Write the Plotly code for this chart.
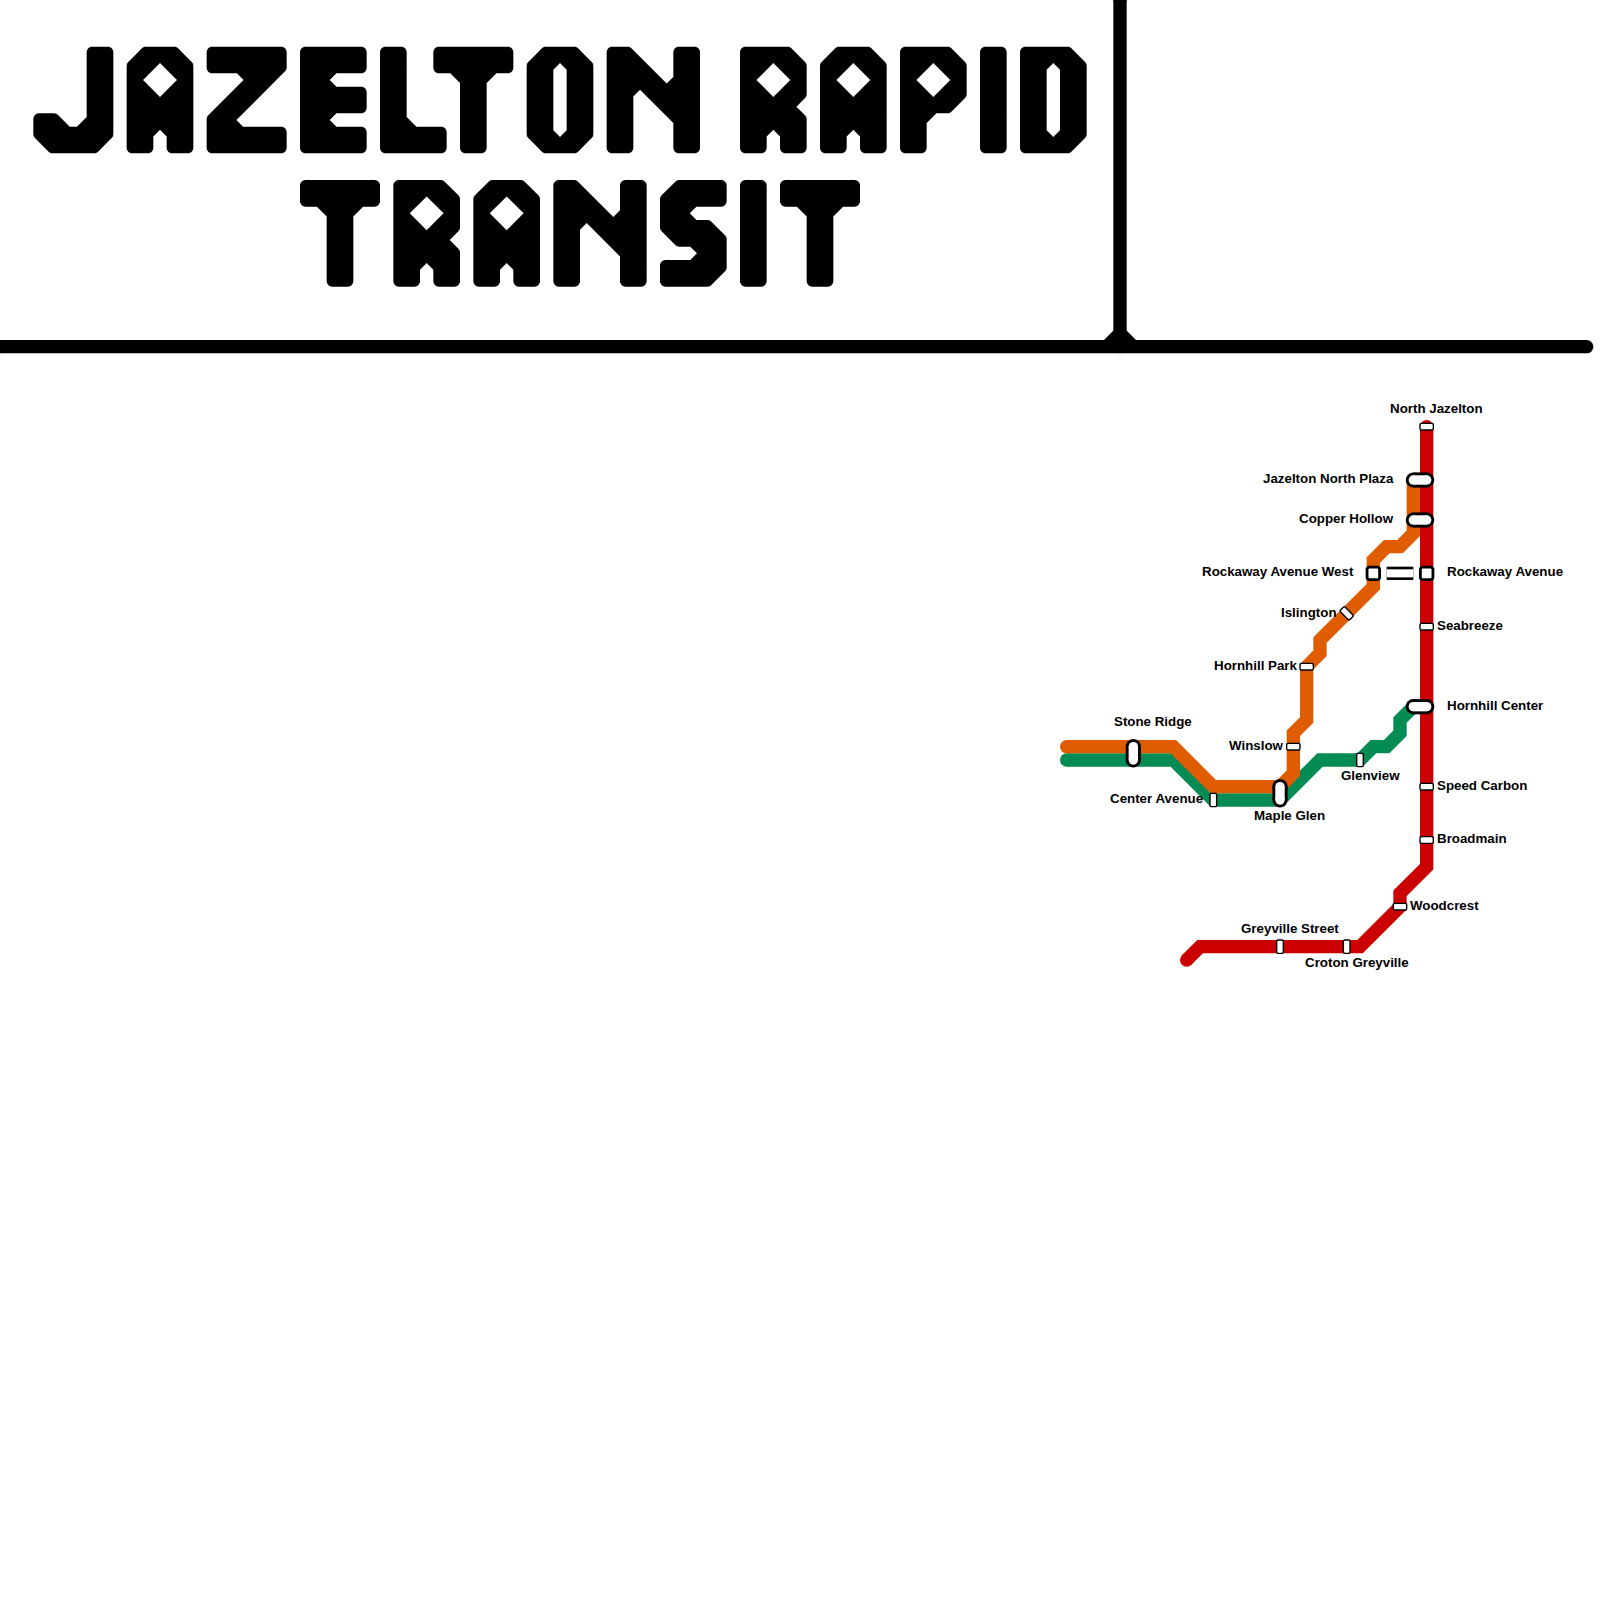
import math
import plotly.graph_objects as go

CELL = 1600 / 120
TITLE = "JAZELTON RAPID TRANSIT"

# ---- map routes, in grid cells ----
red_x = [107, 107, 105, 105, 102, 90, 89]
red_y = [32, 65, 67, 68, 71, 71, 72]
orange_x = [80, 88, 91, 96, 97, 97, 98, 98, 99, 99, 103, 103, 104, 105, 106, 106]
orange_y = [56, 56, 59, 59, 58, 55, 54, 50, 49, 48, 44, 42, 41, 41, 40, 36]
green_x = [80, 88, 91, 96, 99, 102, 103, 104, 105, 105, 106]
green_y = [57, 57, 60, 60, 57, 57, 56, 56, 55, 54, 53]
frame_h_x = [0, 119]
frame_h_y = [26, 26]
frame_v_x = [84, 84]
frame_v_y = [0, 26]
frame_join_x = [83, 84, 85]
frame_join_y = [26, 25, 26]

RED = "#cc0000"
ORANGE = "#df5c00"
GREEN = "#058c54"

# ---- stations ----
small_names = ["North Jazelton", "Seabreeze", "Speed Carbon", "Broadmain", "Woodcrest",
               "Greyville Street", "Croton Greyville", "Center Avenue", "Glenview",
               "Winslow", "Hornhill Park", "Islington"]
small_x = [107, 107, 107, 107, 105, 96, 101, 91, 102, 97, 98, 101]
small_y = [32, 47, 59, 63, 68, 71, 71, 60, 57, 56, 50, 46]
small_dir = ["h", "h", "h", "h", "h", "v", "v", "v", "v", "h", "h", "d"]

pill_names = ["Jazelton North Plaza", "Copper Hollow", "Hornhill Center", "Maple Glen", "Stone Ridge"]
pill_x0 = [106, 106, 106, 96, 85]
pill_y0 = [36, 39, 53, 59, 56]
pill_x1 = [107, 107, 107, 96, 85]
pill_y1 = [36, 39, 53, 60, 57]

square_names = ["Rockaway Avenue West", "Rockaway Avenue"]
square_x = [103, 107]
square_y = [43, 43]
transfer_x = [104, 106]
transfer_y = [43, 43]

# ---- labels: text, anchor, position in page pixels ----
label_text = ["North Jazelton", "Jazelton North Plaza", "Copper Hollow", "Rockaway Avenue West",
              "Rockaway Avenue", "Islington", "Seabreeze", "Hornhill Park", "Hornhill Center",
              "Winslow", "Stone Ridge", "Center Avenue", "Maple Glen", "Glenview", "Speed Carbon",
              "Broadmain", "Woodcrest", "Greyville Street", "Croton Greyville"]
label_anchor = ["center", "right", "right", "right", "left", "right", "left", "right", "left",
                "right", "center", "right", "center", "center", "left", "left", "left", "center", "center"]
label_px = [1436.3, 1394, 1394, 1354, 1447, 1337.3, 1436.7, 1297.5, 1447.3,
            1284.2, 1153.3, 1203, 1289.7, 1370.3, 1436.7, 1437, 1410, 1290, 1356.5]
label_py = [408, 478.7, 518.7, 571.3, 571.3, 612, 625.3, 665.3, 705.3,
            745, 721.7, 798.7, 815.3, 775.3, 785.3, 838.7, 905.3, 928.7, 962.3]

# ---- title lettering: outlines in cells relative to each letter's corner ----
C = 1.27
DIAMOND = [(2.5 - C, 2.5), (2.5, 2.5 - C), (2.5 + C, 2.5), (2.5, 2.5 + C)]
SLOT = [(2, 1.73), (2.5, 1.23), (3, 1.73), (3, 6.27), (2.5, 6.77), (2, 6.27)]
glyph_J = [(4, 0), (6, 0), (6, 6.73), (4.73, 8), (1.27, 8), (0, 6.73), (0, 5), (1.73, 5), (2.73, 6), (3.27, 6), (4, 5.27)]
glyph_A = [(0, C), (C, 0), (3.73, 0), (5, C), (5, 8), (3, 8), (3, 6.73), (2.5, 6.23), (2, 6.73), (2, 8), (0, 8)]
glyph_Z = [(0, 0), (6, 0), (6, 1.73), (2.23, 5.5), (2.73, 6), (6, 6), (6, 8), (0, 8), (0, 5.27), (2.77, 2.5), (2.27, 2), (0, 2)]
glyph_E = [(0, 0), (5, 0), (5, 2), (2.73, 2), (2.23, 2.5), (2.73, 3), (5, 3), (5, 5), (2.73, 5), (2.23, 5.5), (2.73, 6), (5, 6), (5, 8), (0, 8)]
glyph_L = [(0, 0), (2, 0), (2, 5.27), (2.73, 6), (5, 6), (5, 8), (0, 8)]
glyph_T = [(0, 0), (6, 0), (6, 2), (4.73, 2), (4, 2.73), (4, 8), (2, 8), (2, 2.73), (1.27, 2), (0, 2)]
glyph_O = [(0, C), (C, 0), (3.73, 0), (5, C), (5, 6.73), (3.73, 8), (C, 8), (0, 6.73)]
glyph_N = [(0, 0), (1.73, 0), (4.5, 2.77), (5, 2.27), (5, 0), (7, 0), (7, 8), (5, 8), (5, 5.73), (2.5, 3.23), (2, 3.73), (2, 8), (0, 8)]
glyph_R = [(0, 0), (3.73, 0), (5, C), (5, 3.73), (4.23, 4.5), (5, 5.27), (5, 8), (3, 8), (3, 6.73), (2.5, 6.23), (2, 6.73), (2, 8), (0, 8)]
glyph_P = [(0, 0), (3.73, 0), (5, C), (5, 3.73), (3.73, 5), (2.73, 5), (2, 5.73), (2, 8), (0, 8)]
glyph_I = [(0, 0), (2, 0), (2, 8), (0, 8)]
glyph_D = [(0, 0), (3.73, 0), (5, C), (5, 6.73), (3.73, 8), (0, 8)]
glyph_S = [(C, 0), (5, 0), (5, 2), (2.73, 2), (2.23, 2.5), (2.73, 3), (3.73, 3), (5, 4.27), (5, 6.73), (3.73, 8), (0, 8), (0, 6), (2.27, 6), (2.77, 5.5), (2.27, 5), (1.27, 5), (0, 3.73), (0, C)]
GLYPHS = {"J": glyph_J, "A": glyph_A, "Z": glyph_Z, "E": glyph_E, "L": glyph_L, "T": glyph_T, "O": glyph_O,
          "N": glyph_N, "R": glyph_R, "P": glyph_P, "I": glyph_I, "D": glyph_D, "S": glyph_S}
HOLES = {"A": DIAMOND, "R": DIAMOND, "P": DIAMOND, "O": SLOT, "D": SLOT}

line1_letters = list("JAZELTONRAPID")
line1_x = [2.5, 9.5, 15.5, 22.5, 28.5, 32.5, 39.5, 45.5, 55.5, 61.5, 67.5, 73.5, 76.5]
line1_y = 3.5
line2_letters = list("TRANSIT")
line2_x = [22.5, 29.5, 35.5, 41.5, 49.5, 55.5, 58.5]
line2_y = 13.5


def rounded(poly, r):
    """Outline of a polygon with its convex corners rounded to radius r; reflex corners stay sharp."""
    n = len(poly)
    area = sum(poly[i][0] * poly[(i + 1) % n][1] - poly[(i + 1) % n][0] * poly[i][1] for i in range(n))
    s = 1 if area > 0 else -1
    edges = []
    for i in range(n):
        ax, ay = poly[i]
        bx, by = poly[(i + 1) % n]
        dx, dy = bx - ax, by - ay
        ln = math.hypot(dx, dy)
        edges.append((dx / ln, dy / ln, -s * dy / ln, s * dx / ln))
    out = []
    for i in range(n):
        ux, uy, nx0, ny0 = edges[i - 1]
        vx, vy, nx1, ny1 = edges[i]
        cross = ux * vy - uy * vx
        x, y = poly[i]
        if cross * s <= 0:
            out.append((x, y))
            continue
        px, py = x + nx0 * r, y + ny0 * r
        qx, qy = x + nx1 * r, y + ny1 * r
        k = ((qx - px) * vy - (qy - py) * vx) / cross
        cx, cy = px + k * ux, py + k * uy
        a0 = math.atan2(-ny0, -nx0)
        a1 = math.atan2(-ny1, -nx1)
        da = (a1 - a0 + math.pi) % (2 * math.pi) - math.pi
        for j in range(7):
            a = a0 + da * j / 6
            out.append((cx + r * math.cos(a), cy + r * math.sin(a)))
    out.append(out[0])
    return out


fig = go.Figure()


def route(xs, ys, color, width, name):
    sizes = [width] + [0] * (len(xs) - 2) + [width]
    fig.add_trace(go.Scatter(x=xs, y=ys, mode="lines+markers", name=name,
                             line=dict(color=color, width=width),
                             marker=dict(color=color, size=sizes, opacity=1, line=dict(width=0))))


# title lettering
glyph_x, glyph_y, hole_x, hole_y = [], [], [], []
for letters, xs, y0 in [(line1_letters, line1_x, line1_y), (line2_letters, line2_x, line2_y)]:
    for ch, x0 in zip(letters, xs):
        for px, py in rounded(GLYPHS[ch], 0.42):
            glyph_x.append(x0 + px)
            glyph_y.append(y0 + py)
        glyph_x.append(None)
        glyph_y.append(None)
        if ch in HOLES:
            for px, py in HOLES[ch]:
                hole_x.append(x0 + px)
                hole_y.append(y0 + py)
            hole_x.append(None)
            hole_y.append(None)
fig.add_trace(go.Scatter(x=glyph_x, y=glyph_y, mode="lines", fill="toself", fillcolor="#000000", name=TITLE,
                         line=dict(color="#000000", width=0, simplify=False)))
fig.add_trace(go.Scatter(x=hole_x, y=hole_y, mode="lines", fill="toself", fillcolor="#ffffff", name=TITLE + " counters",
                         line=dict(color="#ffffff", width=0, simplify=False)))

# frame
route(frame_v_x, frame_v_y, "#000000", CELL, "frame")
route(frame_h_x, frame_h_y, "#000000", CELL, "frame")
fig.add_trace(go.Scatter(x=frame_join_x, y=frame_join_y, mode="lines", name="frame join",
                         line=dict(color="#000000", width=CELL)))

# lines
route(green_x, green_y, GREEN, CELL, "Green line")
route(orange_x, orange_y, ORANGE, CELL, "Orange line")
route(red_x, red_y, RED, CELL, "Red line")

# transfer
for w, c in [(CELL, "#000000"), (8, "#ffffff")]:
    fig.add_trace(go.Scatter(x=transfer_x, y=transfer_y, mode="lines", name="transfer", line=dict(color=c, width=w)))

# small stations
sx, sy = [], []
for x, y, d in zip(small_x, small_y, small_dir):
    if d == "h":
        pts = [(-.5, -.25), (.5, -.25), (.5, .25), (-.5, .25)]
    elif d == "v":
        pts = [(-.25, -.5), (.25, -.5), (.25, .5), (-.25, .5)]
    else:
        a, b = 0.354 + 0.177, 0.354 - 0.177
        pts = [(-a, -b), (-b, -a), (a, b), (b, a)]
    outline = rounded(pts, 0.11)
    sx += [x + p[0] for p in outline] + [None]
    sy += [y + p[1] for p in outline] + [None]
fig.add_trace(go.Scatter(x=sx, y=sy, mode="lines", fill="toself", fillcolor="#ffffff", name="stations",
                         line=dict(color="#000000", width=1.4, simplify=False)))

# interchange squares
qx, qy = [], []
H = 0.47
for x, y in zip(square_x, square_y):
    outline = rounded([(-H, -H), (H, -H), (H, H), (-H, H)], 0.17)
    qx += [x + p[0] for p in outline] + [None]
    qy += [y + p[1] for p in outline] + [None]
fig.add_trace(go.Scatter(x=qx, y=qy, mode="lines", fill="toself", fillcolor="#ffffff", name="interchanges",
                         line=dict(color="#000000", width=2.8, simplify=False)))

# interchange pills
px_list, py_list = [], []
for x0, y0, x1, y1 in zip(pill_x0, pill_y0, pill_x1, pill_y1):
    px_list += [x0, x1, None]
    py_list += [y0, y1, None]
for w, c in [(15.2, "#000000"), (9.4, "#ffffff")]:
    fig.add_trace(go.Scatter(x=px_list, y=py_list, mode="lines+markers", name="interchanges",
                             line=dict(color=c, width=w),
                             marker=dict(color=c, size=w, opacity=1, line=dict(width=0))))

# labels
for t, a, lx, ly in zip(label_text, label_anchor, label_px, label_py):
    fig.add_annotation(x=lx / CELL, y=ly / CELL, text=t, xanchor=a, yanchor="middle", showarrow=False,
                       borderpad=0, borderwidth=0,
                       font=dict(family="Liberation Sans", size=13.33, color="#000000", weight=700))

fig.update_layout(width=1600, height=1600, margin=dict(l=0, r=0, t=0, b=0, pad=0), showlegend=False,
                  paper_bgcolor="#ffffff", plot_bgcolor="#ffffff", hovermode=False,
                  xaxis=dict(range=[0, 120], visible=False, fixedrange=True),
                  yaxis=dict(range=[120, 0], visible=False, fixedrange=True))
fig.write_html("out.html", post_script="document.body.style.margin='0';", config={"displayModeBar": False})
